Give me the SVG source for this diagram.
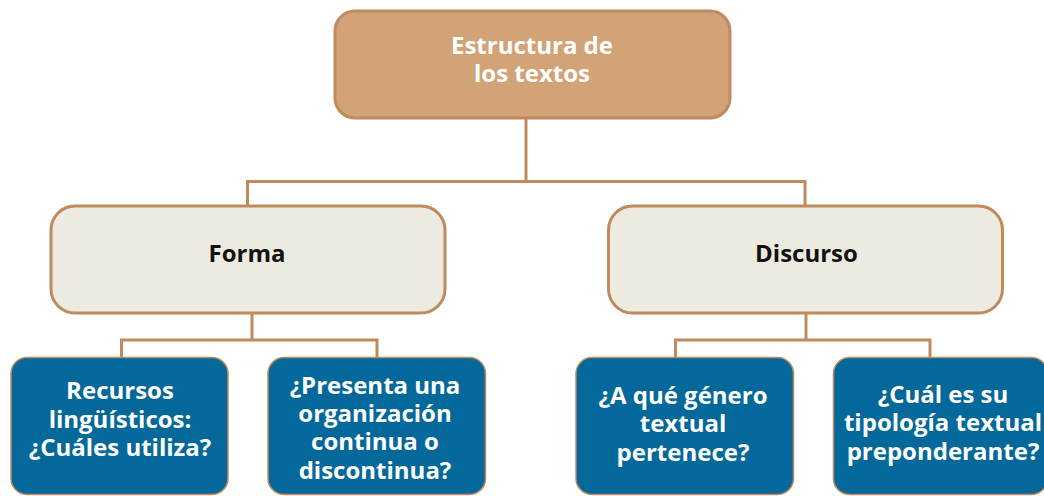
<svg xmlns="http://www.w3.org/2000/svg" width="1044" height="496" viewBox="0 0 1044 496">
<style>
text{font-family:"Open Sans","Noto Sans","Liberation Sans",sans-serif;font-weight:700;font-size:24px;text-anchor:middle}
.top{fill:#D3A378;stroke:#BF8A60;stroke-width:3}
.mid{fill:#EDEAE0;stroke:#C0895E;stroke-width:3}
.leaf{fill:#04699A;stroke:#C0895E;stroke-width:1.5}
.w{fill:#FFFFFF}
.k{fill:#111111}
.c{fill:none;stroke:#C0895E;stroke-width:3}
</style>
<rect width="1044" height="496" fill="#FFFFFF"/>
<g id="connectors">
<path class="c" d="M526 118 V181.5 M247.5 206 V181.5 H805 V206"/>
<path class="c" d="M252 313 V340 M121.5 357 V340 H377 V357"/>
<path class="c" d="M806 313 V340 M675.5 357 V340 H930 V357"/>
</g>
<g id="root">
<rect class="top" x="335" y="11" width="395" height="107" rx="20"/>
<text class="w" x="532" y="54">Estructura de</text>
<text class="w" x="532" y="82">los textos</text>
</g>
<g id="forma">
<rect class="mid" x="51" y="206" width="394" height="107" rx="24"/>
<text class="k" x="247" y="262">Forma</text>
</g>
<g id="discurso">
<rect class="mid" x="608.5" y="206" width="394" height="107" rx="24"/>
<text class="k" x="806.5" y="262">Discurso</text>
</g>
<g id="recursos">
<rect class="leaf" x="11" y="357.5" width="217" height="137" rx="16"/>
<text class="w" x="120" y="399">Recursos</text>
<text class="w" x="120" y="427.5">lingüísticos:</text>
<text class="w" x="120" y="456">¿Cuáles utiliza?</text>
</g>
<g id="organizacion">
<rect class="leaf" x="268" y="357.5" width="217.5" height="137" rx="16"/>
<text class="w" x="375" y="394">¿Presenta una</text>
<text class="w" x="375" y="422">organización</text>
<text class="w" x="375" y="450">continua o</text>
<text class="w" x="375" y="478.5">discontinua?</text>
</g>
<g id="genero">
<rect class="leaf" x="576" y="357.5" width="217.5" height="137" rx="16"/>
<text class="w" x="683" y="403.5">¿A qué género</text>
<text class="w" x="683" y="432">textual</text>
<text class="w" x="683" y="460.5">pertenece?</text>
</g>
<g id="tipologia">
<rect class="leaf" x="833.5" y="357.5" width="214" height="137" rx="16"/>
<text class="w" x="943" y="402.5">¿Cuál es su</text>
<text class="w" x="943" y="431">tipología textual</text>
<text class="w" x="943" y="459.5">preponderante?</text>
</g>
</svg>
